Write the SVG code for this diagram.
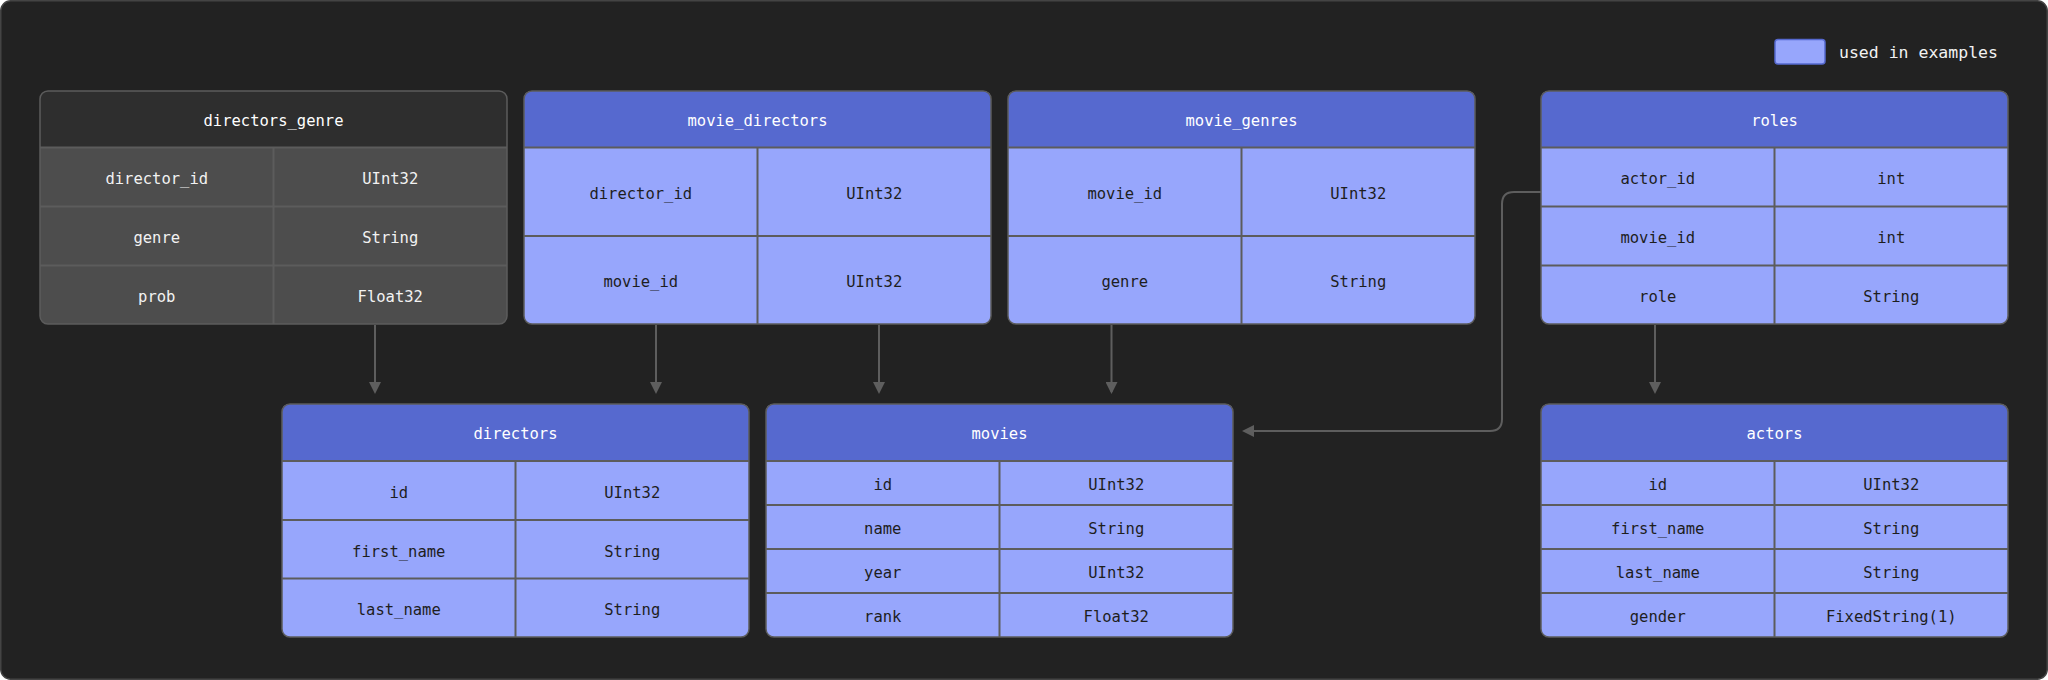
<svg xmlns="http://www.w3.org/2000/svg" width="2048" height="680" viewBox="0 0 2048 680">
<style>
.bg{fill:#222222;stroke:#444444;stroke-width:1.5}
.bodyL{fill:#97a6fc}
.bodyD{fill:#4d4d4d}
.headL{fill:#5669cf}
.headD{fill:#2e2e2e}
.grid{stroke:#5c5c5c;stroke-width:2;fill:none}
.frame{fill:none;stroke:#5c5c5c;stroke-width:1.5}
text{font-family:"DejaVu Sans Mono","Liberation Mono",monospace;font-size:15.5px;text-anchor:middle}
.th{fill:#ffffff}
.tL{fill:#1e1e1e}
.tD{fill:#f2f2f2}
.legend{font-size:16.5px;fill:#f2f2f2;text-anchor:start}
.conn{stroke:#5e5e5e;stroke-width:2;fill:none}
</style>
<defs>
<marker id="arr" markerUnits="userSpaceOnUse" markerWidth="12" markerHeight="12" refX="10" refY="6" orient="auto">
<path d="M0,0 L12,6 L0,12 Z" fill="#5e5e5e"/>
</marker>
</defs>
<rect class="bg" x="0.75" y="0.75" width="2046.5" height="678.5" rx="10"/>

<g id="legend">
<rect x="1775" y="39.5" width="50" height="24.5" rx="3" fill="#97a6fc" stroke="#5669cf" stroke-width="1.5"/>
<text class="legend" x="1839" y="57.5">used in examples</text>
</g>

<g id="directors_genre">
<rect class="bodyD" x="40" y="91" width="467" height="233" rx="8"/>
<path class="headD" d="M40,147.5 V99 Q40,91 48,91 H499 Q507,91 507,99 V147.5 Z"/>
<path class="grid" d="M40,147.5 H507 M40,206.5 H507 M40,265.5 H507 M273.5,147.5 V324"/>
<rect class="frame" x="40" y="91" width="467" height="233" rx="8"/>
<text class="th" x="273.5" y="126">directors_genre</text>
<text class="tD" x="156.75" y="184">director_id</text>
<text class="tD" x="390.25" y="184">UInt32</text>
<text class="tD" x="156.75" y="243">genre</text>
<text class="tD" x="390.25" y="243">String</text>
<text class="tD" x="156.75" y="302">prob</text>
<text class="tD" x="390.25" y="302">Float32</text>
</g>

<g id="movie_directors">
<rect class="bodyL" x="524" y="91" width="467" height="233" rx="8"/>
<path class="headL" d="M524,147.5 V99 Q524,91 532,91 H983 Q991,91 991,99 V147.5 Z"/>
<path class="grid" d="M524,147.5 H991 M524,236 H991 M757.5,147.5 V324"/>
<rect class="frame" x="524" y="91" width="467" height="233" rx="8"/>
<text class="th" x="757.5" y="126">movie_directors</text>
<text class="tL" x="640.75" y="198.5">director_id</text>
<text class="tL" x="874.25" y="198.5">UInt32</text>
<text class="tL" x="640.75" y="287">movie_id</text>
<text class="tL" x="874.25" y="287">UInt32</text>
</g>

<g id="movie_genres">
<rect class="bodyL" x="1008" y="91" width="467" height="233" rx="8"/>
<path class="headL" d="M1008,147.5 V99 Q1008,91 1016,91 H1467 Q1475,91 1475,99 V147.5 Z"/>
<path class="grid" d="M1008,147.5 H1475 M1008,236 H1475 M1241.5,147.5 V324"/>
<rect class="frame" x="1008" y="91" width="467" height="233" rx="8"/>
<text class="th" x="1241.5" y="126">movie_genres</text>
<text class="tL" x="1124.75" y="198.5">movie_id</text>
<text class="tL" x="1358.25" y="198.5">UInt32</text>
<text class="tL" x="1124.75" y="287">genre</text>
<text class="tL" x="1358.25" y="287">String</text>
</g>

<g id="roles">
<rect class="bodyL" x="1541" y="91" width="467" height="233" rx="8"/>
<path class="headL" d="M1541,147.5 V99 Q1541,91 1549,91 H2000 Q2008,91 2008,99 V147.5 Z"/>
<path class="grid" d="M1541,147.5 H2008 M1541,206.5 H2008 M1541,265.5 H2008 M1774.5,147.5 V324"/>
<rect class="frame" x="1541" y="91" width="467" height="233" rx="8"/>
<text class="th" x="1774.5" y="126">roles</text>
<text class="tL" x="1657.75" y="184">actor_id</text>
<text class="tL" x="1891.25" y="184">int</text>
<text class="tL" x="1657.75" y="243">movie_id</text>
<text class="tL" x="1891.25" y="243">int</text>
<text class="tL" x="1657.75" y="302">role</text>
<text class="tL" x="1891.25" y="302">String</text>
</g>

<g id="directors">
<rect class="bodyL" x="282" y="404" width="467" height="233" rx="8"/>
<path class="headL" d="M282,461 V412 Q282,404 290,404 H741 Q749,404 749,412 V461 Z"/>
<path class="grid" d="M282,461 H749 M282,520 H749 M282,578.5 H749 M515.5,461 V637"/>
<rect class="frame" x="282" y="404" width="467" height="233" rx="8"/>
<text class="th" x="515.5" y="439">directors</text>
<text class="tL" x="398.75" y="497.5">id</text>
<text class="tL" x="632.25" y="497.5">UInt32</text>
<text class="tL" x="398.75" y="556.5">first_name</text>
<text class="tL" x="632.25" y="556.5">String</text>
<text class="tL" x="398.75" y="615">last_name</text>
<text class="tL" x="632.25" y="615">String</text>
</g>

<g id="movies">
<rect class="bodyL" x="766" y="404" width="467" height="233" rx="8"/>
<path class="headL" d="M766,461 V412 Q766,404 774,404 H1225 Q1233,404 1233,412 V461 Z"/>
<path class="grid" d="M766,461 H1233 M766,505 H1233 M766,549 H1233 M766,593 H1233 M999.5,461 V637"/>
<rect class="frame" x="766" y="404" width="467" height="233" rx="8"/>
<text class="th" x="999.5" y="439">movies</text>
<text class="tL" x="882.75" y="490">id</text>
<text class="tL" x="1116.25" y="490">UInt32</text>
<text class="tL" x="882.75" y="534">name</text>
<text class="tL" x="1116.25" y="534">String</text>
<text class="tL" x="882.75" y="578">year</text>
<text class="tL" x="1116.25" y="578">UInt32</text>
<text class="tL" x="882.75" y="622">rank</text>
<text class="tL" x="1116.25" y="622">Float32</text>
</g>

<g id="actors">
<rect class="bodyL" x="1541" y="404" width="467" height="233" rx="8"/>
<path class="headL" d="M1541,461 V412 Q1541,404 1549,404 H2000 Q2008,404 2008,412 V461 Z"/>
<path class="grid" d="M1541,461 H2008 M1541,505 H2008 M1541,549 H2008 M1541,593 H2008 M1774.5,461 V637"/>
<rect class="frame" x="1541" y="404" width="467" height="233" rx="8"/>
<text class="th" x="1774.5" y="439">actors</text>
<text class="tL" x="1657.75" y="490">id</text>
<text class="tL" x="1891.25" y="490">UInt32</text>
<text class="tL" x="1657.75" y="534">first_name</text>
<text class="tL" x="1891.25" y="534">String</text>
<text class="tL" x="1657.75" y="578">last_name</text>
<text class="tL" x="1891.25" y="578">String</text>
<text class="tL" x="1657.75" y="622">gender</text>
<text class="tL" x="1891.25" y="622">FixedString(1)</text>
</g>

<g id="connectors">
<path class="conn" marker-end="url(#arr)" d="M375,325 V392"/>
<path class="conn" marker-end="url(#arr)" d="M656,325 V392"/>
<path class="conn" marker-end="url(#arr)" d="M879,325 V392"/>
<path class="conn" marker-end="url(#arr)" d="M1111.5,325 V392"/>
<path class="conn" marker-end="url(#arr)" d="M1655,325 V392"/>
<path class="conn" marker-end="url(#arr)" d="M1541,192 H1514 Q1502,192 1502,204 V419 Q1502,431 1490,431 H1244"/>
</g>
</svg>
